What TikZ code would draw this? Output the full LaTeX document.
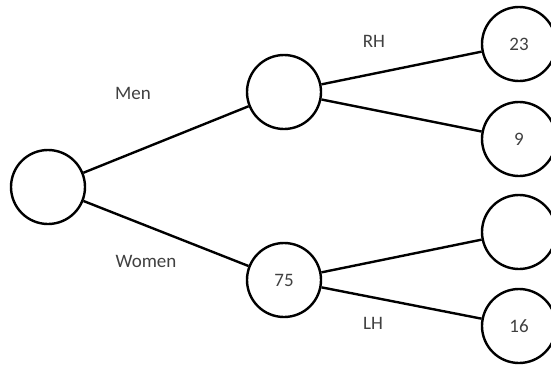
\documentclass[tikz,border=0pt]{standalone}
\usepackage{fontspec}
\setmainfont{Carlito}
\begin{document}
\begin{tikzpicture}[x=1pt,y=-1pt,
  circ/.style={circle,draw=black,line width=2.4pt,minimum size=74pt,inner sep=0pt,text=black!75,font=\fontsize{19}{21}\selectfont},
  lbl/.style={text=black!75,font=\fontsize{19}{21}\selectfont,inner sep=0pt},
  edge/.style={draw=black,line width=2.4pt}]
\useasboundingbox (0,0) rectangle (551,367);
\node[circ] (root) at (48,187) {};
\node[circ] (men) at (284,92) {};
\node[circ] (women) at (284,280) {75};
\node[circ] (rh1) at (519,44) {23};
\node[circ] (lh1) at (519,139) {9};
\node[circ] (rh2) at (519,232) {};
\node[circ] (lh2) at (519,326) {16};
\draw[edge] (root) -- (men);
\draw[edge] (root) -- (women);
\draw[edge] (men) -- (rh1);
\draw[edge] (men) -- (lh1);
\draw[edge] (women) -- (rh2);
\draw[edge] (women) -- (lh2);
\node[lbl] (lmen) at (133,93) {Men};
\node[lbl] (lwomen) at (146,261) {Women};
\node[lbl] (lrh) at (374,41) {RH};
\node[lbl] (llh) at (373,323) {LH};
\end{tikzpicture}
\end{document}
